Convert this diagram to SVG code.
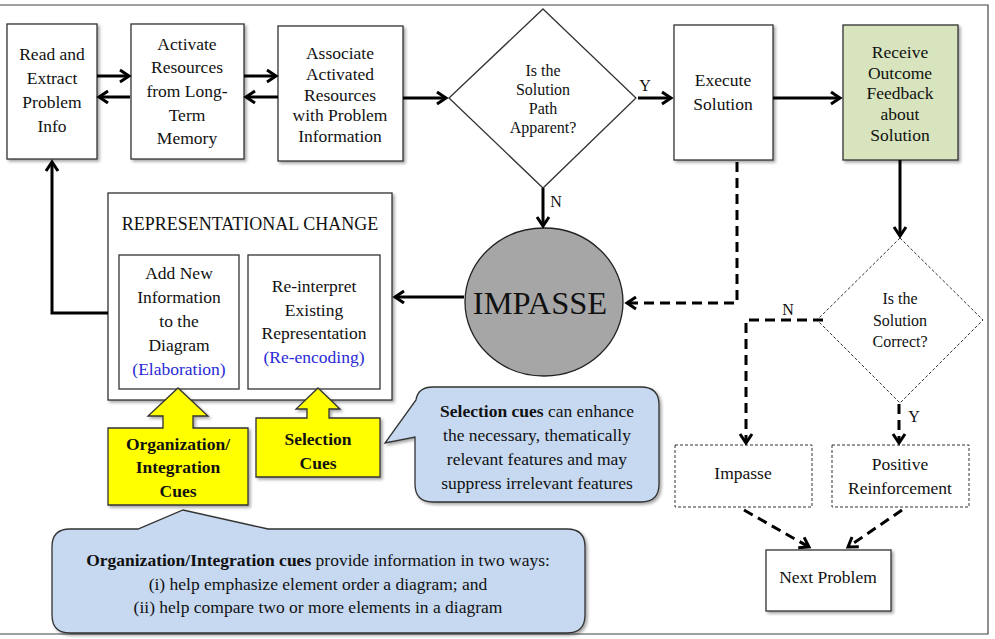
<svg xmlns="http://www.w3.org/2000/svg" width="995" height="639" viewBox="0 0 995 639" font-family="'Liberation Serif', 'Times New Roman', 'DejaVu Serif', serif">
<defs>
<filter id="sh" x="-10%" y="-10%" width="130%" height="130%">
<feDropShadow dx="2" dy="2" stdDeviation="1.5" flood-color="#000" flood-opacity="0.35"/>
</filter>
<filter id="tsh" x="-5%" y="-20%" width="115%" height="160%">
<feDropShadow dx="1" dy="1.5" stdDeviation="1" flood-color="#000" flood-opacity="0.25"/>
</filter>
<marker id="ah" markerUnits="userSpaceOnUse" markerWidth="16" markerHeight="16" refX="12" refY="8" orient="auto">
<path d="M3,2 L12,8 L3,14" fill="none" stroke="#000" stroke-width="3" stroke-dasharray="none"/>
</marker>
</defs>
<style>
text{font-family:'Liberation Serif','Times New Roman','DejaVu Serif',serif;font-size:17.5px;fill:#111;text-anchor:middle}
.box{fill:#fff;stroke:#333;stroke-width:1.3}
.dbox{fill:#fff;stroke:#333;stroke-width:1;stroke-dasharray:3 2}
.ln{fill:none;stroke:#000;stroke-width:3}
.dl{fill:none;stroke:#000;stroke-width:3;stroke-dasharray:10 6}
.sm{font-size:16px}
.blue{fill:#2a2ad6}
.b{font-weight:bold}
.yel{fill:#ffff00;stroke:#333;stroke-width:1.3}
.call{fill:#c6d9f1;stroke:#333;stroke-width:1.3}
</style>
<rect width="995" height="639" fill="#fff"/>
<path d="M0,5 H988 V634 H0" fill="none" stroke="#444" stroke-width="1.2"/>

<g id="read">
<rect class="box" x="7" y="24" width="90" height="135" filter="url(#sh)"/>
<text x="52" y="60">Read and</text><text x="52" y="84">Extract</text><text x="52" y="108">Problem</text><text x="52" y="132">Info</text>
</g>
<g id="activate">
<rect class="box" x="131" y="24" width="113" height="135" filter="url(#sh)"/>
<text x="187" y="50">Activate</text><text x="187" y="73">Resources</text><text x="187" y="97">from Long-</text><text x="187" y="121">Term</text><text x="187" y="144">Memory</text>
</g>
<g id="associate">
<rect class="box" x="278" y="26" width="125" height="135" filter="url(#sh)"/>
<text x="340" y="59">Associate</text><text x="340" y="80">Activated</text><text x="340" y="101">Resources</text><text x="340" y="121">with Problem</text><text x="340" y="142">Information</text>
</g>
<g id="decision1">
<path class="box" d="M543,9 L636,98 L543,188 L449,98 Z" stroke-width="1"/>
<text class="sm" x="543" y="76">Is the</text><text class="sm" x="543" y="95">Solution</text><text class="sm" x="543" y="114">Path</text><text class="sm" x="543" y="133">Apparent?</text>
</g>
<g id="execute">
<rect class="box" x="674" y="25" width="99" height="135" filter="url(#sh)"/>
<text x="723" y="86">Execute</text><text x="723" y="110">Solution</text>
</g>
<g id="receive">
<rect x="843" y="25" width="115" height="135" fill="#d7e4bd" stroke="#333" stroke-width="1.3" filter="url(#sh)"/>
<text x="900" y="58">Receive</text><text x="900" y="79">Outcome</text><text x="900" y="99">Feedback</text><text x="900" y="120">about</text><text x="900" y="141">Solution</text>
</g>
<g id="impasse-circle">
<ellipse cx="544" cy="302" rx="79" ry="74" fill="#a6a6a6" stroke="#222" stroke-width="1.3"/>
<text x="540" y="314" style="font-size:32.5px">IMPASSE</text>
</g>
<g id="rep-change">
<rect class="box" x="108" y="193" width="284" height="207" filter="url(#sh)"/>
<text x="250" y="230" style="font-size:18px">REPRESENTATIONAL CHANGE</text>
</g>
<g id="add-new">
<rect class="box" x="119" y="255" width="120" height="134"/>
<text x="179" y="279">Add New</text><text x="179" y="303">Information</text><text x="179" y="327">to the</text><text x="179" y="351">Diagram</text><text class="blue" x="179" y="375">(Elaboration)</text>
</g>
<g id="reinterpret">
<rect class="box" x="248" y="255" width="132" height="134"/>
<text x="314" y="292">Re-interpret</text><text x="314" y="316">Existing</text><text x="314" y="339">Representation</text><text class="blue" x="314" y="363">(Re-encoding)</text>
</g>
<g id="org-cues">
<path class="yel" d="M178,388 L208,416 L193,416 L193,428 L248,428 L248,505 L108,505 L108,428 L163,428 L163,416 L148,416 Z" filter="url(#sh)"/>
<text class="b" x="178" y="450">Organization/</text><text class="b" x="178" y="473">Integration</text><text class="b" x="178" y="497">Cues</text>
</g>
<g id="sel-cues">
<path class="yel" d="M318,388 L340,409 L329,409 L329,418 L380,418 L380,477 L256,477 L256,418 L307,418 L307,409 L296,409 Z" filter="url(#sh)"/>
<text class="b" x="318" y="445">Selection</text><text class="b" x="318" y="469">Cues</text>
</g>
<g id="sel-callout">
<path class="call" d="M433,387 H641 Q659,387 659,405 V484 Q659,502 641,502 H433 Q415,502 415,484 V437 L385,443 L416,400 Q418,387 433,387 Z" filter="url(#sh)"/>
<text x="537" y="417"><tspan class="b">Selection cues</tspan> can enhance</text>
<text x="537" y="441">the necessary, thematically</text>
<text x="537" y="465">relevant features and may</text>
<text x="537" y="489">suppress irrelevant features</text>
</g>
<g id="org-callout">
<path class="call" d="M70,529 H138 L183,510 L268,529 H567 Q585,529 585,547 V615 Q585,633 567,633 H70 Q52,633 52,615 V547 Q52,529 70,529 Z" filter="url(#sh)"/>
<text x="318" y="566"><tspan class="b">Organization/Integration cues</tspan> provide information in two ways:</text>
<text x="318" y="590">(i) help emphasize element order a diagram; and</text>
<text x="318" y="613">(ii) help compare two or more elements in a diagram</text>
</g>
<g id="decision2">
<path class="dbox" d="M900,238 L983,320 L900,403 L817,320 Z"/>
<text class="sm" x="900" y="304">Is the</text><text class="sm" x="900" y="326">Solution</text><text class="sm" x="900" y="347">Correct?</text>
</g>
<g id="impasse-box">
<rect class="dbox" x="675" y="445" width="137" height="62"/>
<text x="743" y="479">Impasse</text>
</g>
<g id="positive">
<rect class="dbox" x="832" y="445" width="137" height="62"/>
<text x="900" y="470">Positive</text><text x="900" y="494">Reinforcement</text>
</g>
<g id="next">
<rect class="box" x="766" y="550" width="125" height="61" filter="url(#sh)"/>
<text x="828" y="583">Next Problem</text>
</g>

<g id="connectors">
<path class="ln" d="M97,76 H129" marker-end="url(#ah)"/>
<path class="ln" d="M130,97 H99" marker-end="url(#ah)"/>
<path class="ln" d="M244,76 H276" marker-end="url(#ah)"/>
<path class="ln" d="M278,97 H246" marker-end="url(#ah)"/>
<path class="ln" d="M403,98 H446" marker-end="url(#ah)"/>
<path class="ln" d="M638,98 H671" marker-end="url(#ah)"/>
<path class="ln" d="M773,98 H840" marker-end="url(#ah)"/>
<path class="ln" d="M543,188 V226" marker-end="url(#ah)"/>
<path class="ln" d="M900,160 V236" marker-end="url(#ah)"/>
<path class="ln" d="M464,297 H395" marker-end="url(#ah)"/>
<path class="ln" d="M108,313 H52 V162" marker-end="url(#ah)"/>
<path class="dl" d="M737,162 V303 H627" marker-end="url(#ah)"/>
<path class="dl" d="M823,320 H746 V443" marker-end="url(#ah)"/>
<path class="dl" d="M899,404 V443" marker-end="url(#ah)"/>
<path class="dl" d="M744,510 L809,547" marker-end="url(#ah)"/>
<path class="dl" d="M902,510 L848,547" marker-end="url(#ah)"/>
<text class="sm" x="645" y="91">Y</text>
<text class="sm" x="556" y="207">N</text>
<text class="sm" x="788" y="315">N</text>
<text class="sm" x="914" y="422">Y</text>
</g>
</svg>
